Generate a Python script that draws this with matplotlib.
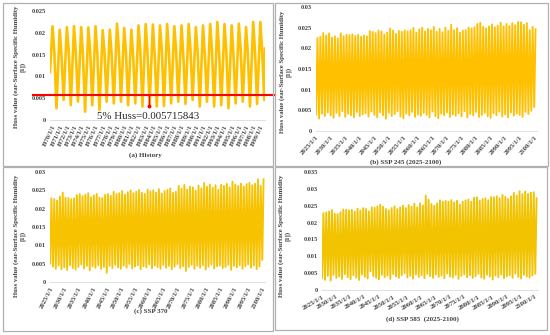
import numpy as np
import matplotlib
matplotlib.use("Agg")
import matplotlib.pyplot as plt
from matplotlib.patches import Rectangle

# ---------------- data ----------------
hist_years = list(range(1970, 2000))
hist_start = 0.0110
hist_end = 0.0164
hist_peak = [0.0215, 0.0207, 0.0213, 0.0215, 0.0213, 0.0212, 0.0215, 0.0206, 0.0207, 0.0221,
             0.0211, 0.0207, 0.0217, 0.0220, 0.0219, 0.0217, 0.0220, 0.0215, 0.0217, 0.0220,
             0.0213, 0.0217, 0.0220, 0.0225, 0.0220, 0.0217, 0.0221, 0.0213, 0.0225, 0.0225]
hist_shoulder = [0.0158, 0.0150, 0.0162, 0.0155, 0.0148, 0.0160, 0.0153, 0.0157, 0.0150, 0.0163,
                 0.0155, 0.0149, 0.0160, 0.0156, 0.0152, 0.0161, 0.0154, 0.0158, 0.0150, 0.0162,
                 0.0156, 0.0151, 0.0160, 0.0155, 0.0158, 0.0150, 0.0163, 0.0154, 0.0159, 0.0157]
hist_trough = [0.0027, 0.0046, 0.0034, 0.0042, 0.0019, 0.0034, 0.0023, 0.0042, 0.0038, 0.0042,
               0.0034, 0.0038, 0.0031, 0.0034, 0.0031, 0.0032, 0.0038, 0.0042, 0.0037, 0.0046,
               0.0031, 0.0042, 0.0031, 0.0034, 0.0027, 0.0038, 0.0042, 0.0031, 0.0037, 0.0046]
huss_5pct = 0.005715843

ssp_years = list(range(2025, 2101))
ssp245_peak = [0.0225, 0.0228, 0.0237, 0.0231, 0.0236, 0.0226, 0.0229, 0.0224, 0.0236, 0.0229,
               0.0233, 0.0232, 0.0234, 0.0230, 0.0233, 0.0228, 0.0231, 0.0229, 0.0242, 0.0240,
               0.0237, 0.0243, 0.0241, 0.0233, 0.0238, 0.0248, 0.0243, 0.0235, 0.0242, 0.0240,
               0.0243, 0.0241, 0.0244, 0.0249, 0.0238, 0.0246, 0.0250, 0.0241, 0.0247, 0.0244,
               0.0252, 0.0240, 0.0247, 0.0239, 0.0250, 0.0242, 0.0257, 0.0244, 0.0249, 0.0238,
               0.0243, 0.0244, 0.0250, 0.0248, 0.0251, 0.0259, 0.0262, 0.0252, 0.0248, 0.0253,
               0.0258, 0.0251, 0.0255, 0.0262, 0.0253, 0.0259, 0.0254, 0.0261, 0.0256, 0.0264,
               0.0263, 0.0257, 0.0261, 0.0244, 0.0252, 0.0246]
ssp245_trough = [0.0040, 0.0030, 0.0042, 0.0036, 0.0045, 0.0038, 0.0032, 0.0044, 0.0036, 0.0048,
                 0.0034, 0.0042, 0.0038, 0.0033, 0.0046, 0.0036, 0.0040, 0.0043, 0.0035, 0.0047,
                 0.0039, 0.0033, 0.0045, 0.0038, 0.0030, 0.0044, 0.0036, 0.0041, 0.0048, 0.0035,
                 0.0031, 0.0042, 0.0038, 0.0046, 0.0034, 0.0040, 0.0037, 0.0044, 0.0039, 0.0033,
                 0.0047, 0.0036, 0.0031, 0.0042, 0.0038, 0.0045, 0.0034, 0.0040, 0.0037, 0.0043,
                 0.0035, 0.0048, 0.0033, 0.0041, 0.0038, 0.0046, 0.0034, 0.0039, 0.0044, 0.0036,
                 0.0032, 0.0043, 0.0038, 0.0047, 0.0035, 0.0040, 0.0033, 0.0045, 0.0037, 0.0042,
                 0.0039, 0.0034, 0.0046, 0.0041, 0.0049, 0.0058]
ssp370_peak = [0.0228, 0.0226, 0.0222, 0.0233, 0.0244, 0.0230, 0.0229, 0.0226, 0.0228, 0.0237,
               0.0240, 0.0234, 0.0238, 0.0242, 0.0231, 0.0236, 0.0240, 0.0230, 0.0229, 0.0238,
               0.0240, 0.0235, 0.0246, 0.0240, 0.0242, 0.0248, 0.0238, 0.0245, 0.0250, 0.0242,
               0.0246, 0.0251, 0.0243, 0.0240, 0.0252, 0.0247, 0.0250, 0.0244, 0.0253, 0.0241,
               0.0248, 0.0251, 0.0255, 0.0243, 0.0246, 0.0262, 0.0255, 0.0265, 0.0252, 0.0260,
               0.0258, 0.0249, 0.0263, 0.0255, 0.0270, 0.0260, 0.0266, 0.0257, 0.0264, 0.0252,
               0.0265, 0.0262, 0.0268, 0.0258, 0.0274, 0.0266, 0.0262, 0.0268, 0.0260, 0.0267,
               0.0270, 0.0264, 0.0268, 0.0280, 0.0262, 0.0280]
ssp370_trough = [0.0050, 0.0042, 0.0036, 0.0045, 0.0035, 0.0040, 0.0033, 0.0046, 0.0038, 0.0034,
                 0.0041, 0.0048, 0.0037, 0.0044, 0.0032, 0.0043, 0.0039, 0.0046, 0.0036, 0.0041,
                 0.0025, 0.0044, 0.0038, 0.0047, 0.0040, 0.0036, 0.0045, 0.0039, 0.0049, 0.0037,
                 0.0042, 0.0046, 0.0035, 0.0043, 0.0040, 0.0048, 0.0037, 0.0045, 0.0041, 0.0036,
                 0.0047, 0.0039, 0.0044, 0.0035, 0.0042, 0.0049, 0.0038, 0.0043, 0.0030, 0.0041,
                 0.0047, 0.0036, 0.0044, 0.0039, 0.0046, 0.0034, 0.0042, 0.0048, 0.0037, 0.0043,
                 0.0045, 0.0038, 0.0041, 0.0047, 0.0033, 0.0044, 0.0040, 0.0046, 0.0036, 0.0043,
                 0.0048, 0.0039, 0.0045, 0.0035, 0.0042, 0.0060]
ssp585_peak = [0.0228, 0.0230, 0.0233, 0.0237, 0.0226, 0.0225, 0.0231, 0.0239, 0.0238, 0.0236,
               0.0238, 0.0232, 0.0241, 0.0236, 0.0243, 0.0240, 0.0233, 0.0245, 0.0244, 0.0248,
               0.0253, 0.0247, 0.0240, 0.0236, 0.0243, 0.0248, 0.0240, 0.0245, 0.0250, 0.0243,
               0.0252, 0.0247, 0.0256, 0.0245, 0.0257, 0.0251, 0.0280, 0.0268, 0.0255, 0.0250,
               0.0257, 0.0266, 0.0262, 0.0264, 0.0262, 0.0267, 0.0260, 0.0265, 0.0253, 0.0262,
               0.0266, 0.0268, 0.0262, 0.0274, 0.0275, 0.0265, 0.0270, 0.0272, 0.0266, 0.0276,
               0.0275, 0.0278, 0.0272, 0.0282, 0.0276, 0.0270, 0.0278, 0.0288, 0.0280, 0.0293,
               0.0284, 0.0292, 0.0285, 0.0289, 0.0290, 0.0272]
ssp585_trough = [0.0035, 0.0030, 0.0042, 0.0028, 0.0045, 0.0036, 0.0040, 0.0033, 0.0047, 0.0038,
                 0.0032, 0.0044, 0.0037, 0.0030, 0.0046, 0.0039, 0.0034, 0.0055, 0.0041, 0.0036,
                 0.0032, 0.0045, 0.0038, 0.0043, 0.0033, 0.0047, 0.0040, 0.0036, 0.0044, 0.0050,
                 0.0037, 0.0042, 0.0034, 0.0046, 0.0039, 0.0044, 0.0035, 0.0048, 0.0041, 0.0036,
                 0.0046, 0.0039, 0.0043, 0.0035, 0.0049, 0.0040, 0.0037, 0.0045, 0.0033, 0.0042,
                 0.0047, 0.0038, 0.0044, 0.0036, 0.0041, 0.0048, 0.0037, 0.0034, 0.0045, 0.0040,
                 0.0031, 0.0043, 0.0038, 0.0046, 0.0035, 0.0041, 0.0044, 0.0036, 0.0049, 0.0039,
                 0.0034, 0.0045, 0.0040, 0.0037, 0.0043, 0.0048]

hist_ticks = list(range(1970, 2000))
ssp_ticks = list(range(2025, 2101, 5))
ylabel_text = "Huss value (ear-Surface Specific Humidity\n[1])"

# ---------------- figure ----------------
W, H = 550, 335
fig = plt.figure(figsize=(W / 100, H / 100), dpi=100)
fig.patch.set_facecolor("white")
SERIF = ["Liberation Serif", "DejaVu Serif"]


def px_axes(x0, x1, ytop, ybot):
    return fig.add_axes([x0 / W, 1 - ybot / H, (x1 - x0) / W, (ybot - ytop) / H])


def style(ax, ymax, yticks, xt, xlabels, rot, xmin, xmax):
    ax.set_ylim(0, ymax)
    ax.set_xlim(xmin, xmax)
    for s in ["top", "right", "left"]:
        ax.spines[s].set_visible(False)
    ax.spines["bottom"].set_color("#D9D9D9")
    ax.spines["bottom"].set_linewidth(0.6)
    ax.set_yticks(yticks)
    ax.set_yticklabels(["0" if v == 0 else f"{v:g}" for v in yticks],
                       fontfamily=SERIF, fontweight="bold", fontsize=4.6, color="#404040")
    ax.set_xticks(xt)
    ax.set_xticklabels(xlabels, rotation=rot, ha="right", rotation_mode="anchor",
                       fontfamily=SERIF, fontweight="bold", fontsize=4.8, color="#404040")
    ax.tick_params(length=0, pad=3)
    ax.set_facecolor("none")


def ssp_series(peak, trough):
    xs, ys = [], []
    for y, t, p in zip(ssp_years, trough, peak):
        xs += [y + 0.05, y + 0.5]
        ys += [t, p]
    return xs, ys


# panel borders
for (x0, y0, x1, y1) in [(3, 3, 273, 166), (275, 3, 548, 166), (3, 167, 273, 331), (275, 167, 547, 330)]:
    fig.add_artist(Rectangle((x0 / W, 1 - y1 / H), (x1 - x0) / W, (y1 - y0) / H,
                             transform=fig.transFigure, fill=False, edgecolor="#B0B0B0", lw=0.9))

# (a) History
axa = px_axes(50, 265, 11, 120)
xs = [1970.0]
ys = [hist_start]
for y, p, s, t in zip(hist_years, hist_peak, hist_shoulder, hist_trough):
    xs += [y + 0.35, y + 0.6, y + 0.9]
    ys += [p, s, t]
xs.append(2000.0)
ys.append(hist_end)
axa.plot(xs, ys, color="#FFC000", lw=1.9, solid_joinstyle="round")
style(axa, 0.025, [0, 0.005, 0.01, 0.015, 0.02, 0.025], [t + 0.3 for t in hist_ticks],
      [f"{t}/1/1" for t in hist_ticks], 65, 1970, 2000)
axa.axhline(huss_5pct, xmin=(33 - 50) / 215, xmax=(275 - 50) / 215, color="#FF0000", lw=1.5, clip_on=False)
axa.plot([1983.8, 1983.8], [huss_5pct, 0.0033], color="#FF0000", lw=0.9)
axa.plot([1983.8], [0.0032], "o", color="#FF0000", ms=1.8)
fig.text(148 / W, 1 - 117 / H, "5% Huss=0.005715843", ha="center", va="center",
         fontfamily=SERIF, fontsize=7.8, color="#262626")
fig.text(145 / W, 1 - 155 / H, "(a) History", ha="center", va="center",
         fontfamily=SERIF, fontweight="bold", fontsize=5, color="#404040")
fig.text(19.5 / W, 1 - 67 / H, ylabel_text, rotation=90, ha="center", va="center", multialignment="center",
         fontfamily=SERIF, fontweight="bold", fontsize=4.9, color="#404040", linespacing=1.1)

# (b) SSP 245
axb = px_axes(316, 537, 7, 131)
x, y = ssp_series(ssp245_peak, ssp245_trough)
axb.plot(x, y, color="#FFC000", lw=1.35)
style(axb, 0.03, [0, 0.005, 0.01, 0.015, 0.02, 0.025, 0.03], ssp_ticks,
      [f"{t}/1/1" for t in ssp_ticks], 48, 2025, 2101)
fig.text(406 / W, 1 - 162 / H, "(b) SSP 245 (2025-2100)", ha="center", va="center",
         fontfamily=SERIF, fontweight="bold", fontsize=5, color="#404040")
fig.text(285 / W, 1 - 72 / H, ylabel_text, rotation=90, ha="center", va="center", multialignment="center",
         fontfamily=SERIF, fontweight="bold", fontsize=4.9, color="#404040", linespacing=1.1)

# (c) SSP 370
axc = px_axes(50, 265, 172, 282)
x, y = ssp_series(ssp370_peak, ssp370_trough)
axc.plot(x, y, color="#F7C200", lw=1.35)
style(axc, 0.03, [0, 0.005, 0.01, 0.015, 0.02, 0.025, 0.03], ssp_ticks,
      [f"{t}/1/1" for t in ssp_ticks], 63, 2025, 2101)
fig.text(151 / W, 1 - 311 / H, "(c) SSP 370", ha="center", va="center",
         fontfamily=SERIF, fontweight="bold", fontsize=5, color="#404040")
fig.text(19.5 / W, 1 - 236 / H, ylabel_text, rotation=90, ha="center", va="center", multialignment="center",
         fontfamily=SERIF, fontweight="bold", fontsize=4.9, color="#404040", linespacing=1.1)

# (d) SSP 585
axd = px_axes(322, 538, 172, 290)
x, y = ssp_series(ssp585_peak, ssp585_trough)
axd.plot(x, y, color="#F2C300", lw=1.35)
style(axd, 0.035, [0, 0.005, 0.01, 0.015, 0.02, 0.025, 0.03, 0.035], ssp_ticks,
      [f"{t}/1/1" for t in ssp_ticks], 30, 2025, 2101)
fig.text(422 / W, 1 - 319 / H, "(d) SSP 585  (2025-2100)", ha="center", va="center",
         fontfamily=SERIF, fontweight="bold", fontsize=5, color="#404040")
fig.text(284 / W, 1 - 236 / H, ylabel_text, rotation=90, ha="center", va="center", multialignment="center",
         fontfamily=SERIF, fontweight="bold", fontsize=4.9, color="#404040", linespacing=1.1)

fig.savefig("out.png", dpi=100, facecolor="white")
